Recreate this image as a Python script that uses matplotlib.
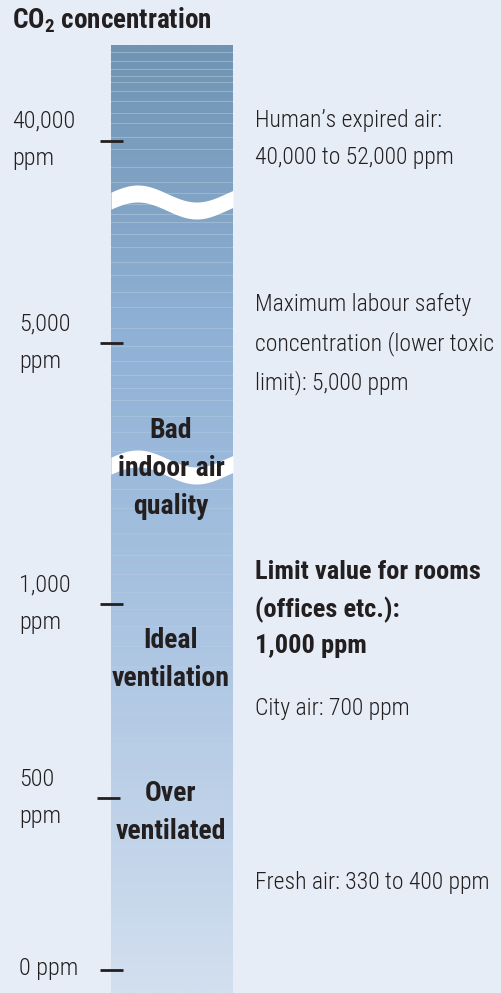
import numpy as np
import matplotlib.pyplot as plt
from matplotlib import font_manager
from matplotlib.colors import LinearSegmentedColormap

# Data
tick_ppm = [0, 500, 1000, 5000, 40000]
tick_labels = ['0 ppm', '500\nppm', '1,000\nppm', '5,000\nppm', '40,000\nppm']
# broken scale: ppm value -> vertical position (px from top)
scale_ppm = [0, 500, 1000, 5000, 40000]
scale_pos = [970, 798, 604, 343, 141]
zone_labels = ['Over\nventilated', 'Ideal\nventilation', 'Bad\nindoor air\nquality']
zone_pos = [811, 658, 467]
notes = ["Human\u2019s expired air:\n40,000 to 52,000 ppm",
         "Maximum labour safety\nconcentration (lower toxic\nlimit): 5,000 ppm",
         "Limit value for rooms\n(offices etc.):\n1,000 ppm",
         "City air: 700 ppm",
         "Fresh air: 330 to 400 ppm"]
note_pos = [139, 344, 609, 708, 882]
note_bold = [False, False, True, False, False]
break_pos = [202, 467]

# pick a condensed family that has regular and bold
weights = {}
for f in font_manager.fontManager.ttflist:
    weights.setdefault(f.name, set()).add(f.weight)
prefs = ['Roboto Condensed', 'Archivo Narrow', 'Pragati Narrow', 'PT Sans Narrow',
         'Liberation Sans Narrow', 'Fira Sans Condensed', 'IBM Plex Sans Condensed']
fam = 'DejaVu Sans'
for p in prefs:
    if p in weights and 700 in weights[p] and 400 in weights[p]:
        fam = p
        break
ws = weights.get(fam, {400, 700})
w_light = 300 if 300 in ws else 400

plt.rcParams['font.family'] = [fam, 'DejaVu Sans']
plt.rcParams['mathtext.fontset'] = 'custom'
plt.rcParams['mathtext.bf'] = fam + ':bold'
plt.rcParams['mathtext.rm'] = fam

bg = '#e6edf6'
txt = '#231f20'


def ppm_to_y(v):
    return np.interp(v, scale_ppm, scale_pos)


fig = plt.figure(figsize=(5.02, 9.93), dpi=100, facecolor=bg)
ax = fig.add_axes([0, 0, 1, 1])
ax.set_facecolor(bg)
ax.set_xlim(0, 502)
ax.set_ylim(993, 0)
ax.axis('off')

# gradient bar
x0, x1, top, bot = 111, 233, 45, 993
cmap = LinearSegmentedColormap.from_list(
    'bar', [(0, '#7094b3'), (0.3, '#8fb1d5'), (0.6, '#a9c3e1'), (1, '#d2dfef')])
grad = np.linspace(0, 1, 400).reshape(-1, 1)
ax.imshow(grad, cmap=cmap, extent=(x0, x1, bot, top), aspect='auto', zorder=1)

# faint stripes
gaps = [9, 8, 6, 5, 9, 9, 11, 8, 13, 10, 16, 12]
y = top + 7
i = 0
while y < bot - 5:
    a = 0.28 * max(0.0, 1 - (y - top) / 800)
    ax.plot([x0, x1], [y, y], color='white', lw=0.7, alpha=a, zorder=2)
    y += gaps[i % len(gaps)] + (y - top) * 0.02
    i += 1

# wavy breaks
xs = np.linspace(x0, x1, 200)
for yc in break_pos:
    wave = yc - 8.5 * np.sin(2 * np.pi * (xs - 108) / 118)
    ax.fill_between(xs, wave - 8.5, wave + 8.5, color='white', lw=0, zorder=3)

# ticks and labels
for v, lab in zip(tick_ppm, tick_labels):
    ty = ppm_to_y(v)
    xa = 97 if v == 500 else 100
    ax.plot([xa, xa + 23], [ty, ty], color=txt, lw=2, solid_capstyle='butt', zorder=4)
    if '\n' in lab:
        ax.text(19 if v < 40000 else 12, ty - (1 if v == 40000 else 0), lab, fontsize=17.5,
                color=txt, fontweight=w_light, ha='left', va='center',
                linespacing=1.78, zorder=5)
    else:
        ax.text(19, ty - 1, lab, fontsize=17.5, color=txt, fontweight=w_light,
                ha='left', va='center', zorder=5)

# zone labels in the bar
for lab, zy in zip(zone_labels, zone_pos):
    ax.text(171, zy + 1.5, lab, fontsize=20, fontweight='bold', color=txt,
            ha='center', va='center', linespacing=1.5, zorder=5)

# notes on the right
for lab, ny, b in zip(notes, note_pos, note_bold):
    ax.text(255, ny, lab, fontsize=19 if b else 17, color=txt, ha='left', va='center',
            fontweight='bold' if b else w_light,
            linespacing=1.6 if b else 1.76, zorder=5)

ax.text(12, 20, r'$\mathbf{CO_2}$ concentration', fontsize=19.5, fontweight='bold',
        color=txt, ha='left', va='center')

fig.savefig('out.png', dpi=100, facecolor=bg)
